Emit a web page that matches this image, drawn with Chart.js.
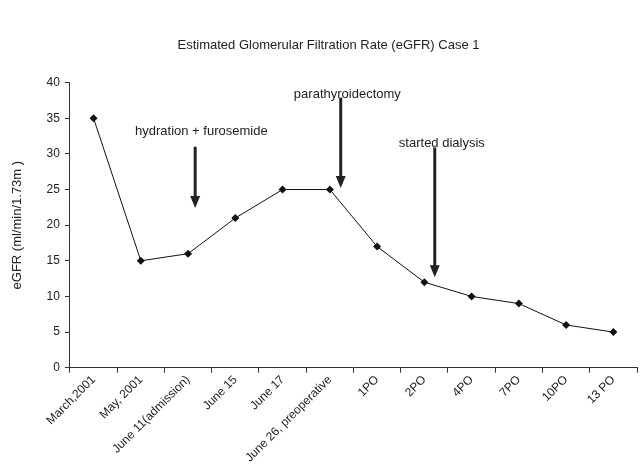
<!DOCTYPE html>
<html>
<head>
<meta charset="utf-8">
<script src="https://cdn.jsdelivr.net/npm/chart.js@4"></script>
<style>
  body { margin: 0; background: #fff; }
  canvas { display: block; }
</style>
</head>
<body>
<canvas id="egfrChart" width="641" height="465"></canvas>
<script>
const visits = ['March,2001', 'May, 2001', 'June 11(admission)', 'June 15', 'June 17',
    'June 26, preoperative', '1PO', '2PO', '4PO', '7PO', '10PO', '13 PO'];
const egfr = [35, 15, 16, 21, 25, 25, 17, 12, 10, 9, 6, 5];
const yTicks = [0, 5, 10, 15, 20, 25, 30, 35, 40];

// events marked with arrows: text, category position, arrow top / tip, label level (eGFR units)
const eventLabels = ['hydration + furosemide', 'parathyroidectomy', 'started dialysis'];
const eventAt = [2.15, 5.23, 7.22];
const eventTextAt = [2.28, 5.37, 7.37];
const eventTop = [31.0, 37.9, 30.9];
const eventTip = [22.4, 25.2, 12.7];
const eventTextLevel = [33.1, 38.3, 31.5];

const FONT = '"Liberation Sans", Arial, sans-serif';

const arrowPlugin = {
    id: 'eventArrows',
    afterDatasetsDraw(chart) {
        const ctx = chart.ctx;
        const xs = chart.scales.x, ys = chart.scales.y;
        ctx.save();
        ctx.fillStyle = '#222';
        ctx.strokeStyle = '#222';
        ctx.font = '13px ' + FONT;
        ctx.textAlign = 'center';
        ctx.textBaseline = 'middle';
        eventLabels.forEach((label, i) => {
            const x = xs.getPixelForValue(eventAt[i]);
            const top = ys.getPixelForValue(eventTop[i]);
            const tip = ys.getPixelForValue(eventTip[i]);
            ctx.fillText(label, xs.getPixelForValue(eventTextAt[i]), ys.getPixelForValue(eventTextLevel[i]));
            ctx.lineWidth = 3;
            ctx.beginPath();
            ctx.moveTo(x, top);
            ctx.lineTo(x, tip - 10);
            ctx.stroke();
            ctx.beginPath();
            ctx.moveTo(x - 5, tip - 12);
            ctx.lineTo(x + 5, tip - 12);
            ctx.lineTo(x, tip);
            ctx.closePath();
            ctx.fill();
        });
        ctx.restore();
    }
};

const chart = new Chart(document.getElementById('egfrChart').getContext('2d'), {
    type: 'line',
    data: {
        labels: visits,
        datasets: [{
            data: egfr,
            borderColor: '#111',
            borderWidth: 1,
            pointStyle: 'rectRot',
            pointRadius: 4,
            pointBackgroundColor: '#111',
            pointBorderColor: '#111',
            pointBorderWidth: 0,
            tension: 0
        }]
    },
    options: {
        responsive: false,
        animation: false,
        layout: { padding: { left: 10, right: -6, top: 0, bottom: 0 } },
        scales: {
            x: {
                offset: true,
                afterFit(scale) {
                    // let the axis run past the right edge like the original
                    scale.paddingRight = -6;
                },
                grid: {
                    offset: true,
                    drawOnChartArea: false,
                    tickLength: 5,
                    color: '#333'
                },
                border: { color: '#333', width: 1 },
                ticks: {
                    color: '#222',
                    font: { family: FONT, size: 12 },
                    minRotation: 45,
                    maxRotation: 45,
                    autoSkip: false,
                    padding: 0
                }
            },
            y: {
                min: 0,
                max: 40,
                afterBuildTicks(axis) {
                    axis.ticks = yTicks.map(v => ({ value: v }));
                },
                grid: {
                    drawOnChartArea: false,
                    tickLength: 5,
                    color: '#333'
                },
                border: { color: '#333', width: 1 },
                ticks: {
                    color: '#222',
                    font: { family: FONT, size: 12 },
                    padding: 5
                },
                title: {
                    display: true,
                    text: 'eGFR (ml/min/1.73m )',
                    color: '#222',
                    font: { family: FONT, size: 13 },
                    padding: { top: 0, bottom: 16 }
                }
            }
        },
        plugins: {
            legend: { display: false },
            tooltip: { enabled: false },
            title: {
                display: true,
                text: 'Estimated Glomerular Filtration Rate (eGFR) Case 1',
                color: '#222',
                font: { family: FONT, size: 13, weight: 'normal' },
                padding: { top: 38, bottom: 29 }
            }
        }
    },
    plugins: [arrowPlugin]
});
</script>
</body>
</html>
